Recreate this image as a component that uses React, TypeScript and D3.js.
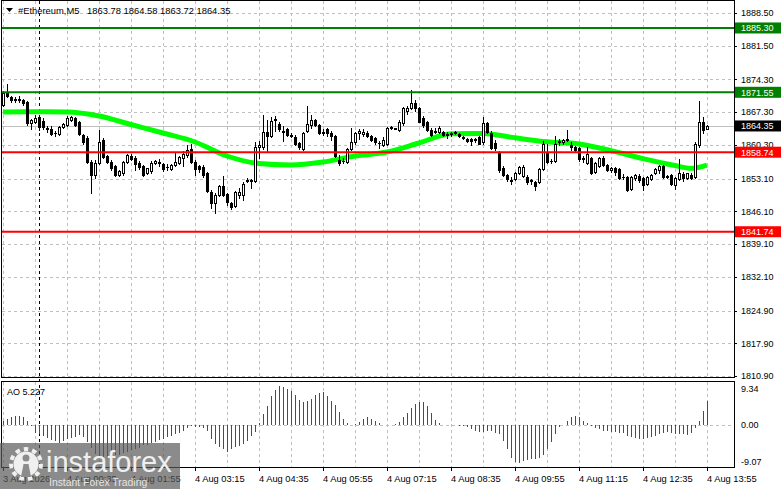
import React from 'react';
import * as d3 from 'd3';

const W = 781;
const H = 489;
const FONT = "'Liberation Sans', Arial, sans-serif";

// M5 bars, first bar 3 Aug 2026 23:15, last 4 Aug 13:55
const barStartUtc = Date.UTC(2026, 7, 3, 23, 15);
const barMinutes = 5;

const opens = [
  1868.8, 1871.5, 1870.5, 1870.1, 1870.1, 1869.9, 1869.5, 1865.0, 1865.3, 1866.3,
  1865.4, 1863.9, 1863.8, 1862.9, 1862.6, 1864.2, 1864.6, 1865.6, 1866.0, 1865.3,
  1862.4, 1861.7, 1856.7, 1853.9, 1856.4, 1861.4, 1857.9, 1856.7, 1855.8, 1853.9,
  1854.3, 1856.7, 1858.0, 1857.6, 1856.4, 1855.8, 1854.2, 1854.8, 1856.4, 1856.7,
  1856.2, 1855.6, 1855.1, 1856.0, 1856.5, 1857.5, 1858.1, 1859.5, 1856.7, 1855.8,
  1855.5, 1854.2, 1850.3, 1847.8, 1849.5, 1851.5, 1849.8, 1847.9, 1847.2, 1849.6,
  1849.6, 1852.6, 1852.9, 1852.6, 1859.9, 1859.9, 1863.1, 1862.2, 1865.6, 1864.8,
  1863.3, 1863.7, 1862.4, 1861.9, 1860.8, 1859.4, 1863.3, 1864.6, 1865.6, 1864.6,
  1863.1, 1863.7, 1862.8, 1862.2, 1857.1, 1856.9, 1856.7, 1859.5, 1861.0, 1862.9,
  1862.7, 1862.8, 1862.2, 1861.7, 1860.8, 1860.3, 1860.5, 1864.1, 1863.9, 1863.5,
  1864.9, 1867.5, 1868.1, 1869.3, 1868.1, 1866.0, 1865.1, 1863.5, 1863.3, 1863.0,
  1863.0, 1862.6, 1862.6, 1862.9, 1862.6, 1861.9, 1861.6, 1861.5, 1861.3, 1861.9,
  1860.9, 1864.9, 1862.9, 1860.8, 1858.8, 1855.3, 1853.9, 1852.9, 1853.0, 1854.2,
  1853.7, 1853.4, 1852.8, 1852.4, 1852.4, 1855.1, 1858.8, 1856.9, 1856.9, 1861.0,
  1861.0, 1861.5, 1860.3, 1859.8, 1859.6, 1857.4, 1856.5, 1857.4, 1854.6, 1855.8,
  1857.6, 1856.0, 1854.9, 1855.3, 1855.1, 1853.5, 1853.4, 1850.8, 1853.2, 1853.7,
  1853.2, 1851.9, 1853.0, 1854.2, 1854.9, 1855.8, 1853.6, 1853.9, 1851.7, 1853.0,
  1854.0, 1853.2, 1853.9, 1853.5, 1860.3, 1865.3, 1863.78,
];
const highs = [
  1871.9, 1873.4, 1870.8, 1870.6, 1870.7, 1870.1, 1869.7, 1865.9, 1866.7, 1866.6,
  1866.0, 1864.4, 1864.3, 1863.3, 1864.3, 1865.0, 1866.4, 1866.5, 1866.3, 1865.5,
  1862.7, 1862.3, 1857.0, 1857.0, 1863.5, 1861.8, 1858.1, 1857.0, 1856.0, 1855.0,
  1856.9, 1858.4, 1858.3, 1857.9, 1856.8, 1856.0, 1855.4, 1856.8, 1857.1, 1857.3,
  1856.5, 1856.3, 1856.2, 1858.8, 1858.0, 1859.0, 1860.3, 1860.5, 1857.0, 1856.1,
  1856.0, 1854.5, 1850.6, 1850.0, 1851.8, 1853.7, 1850.1, 1848.1, 1850.5, 1851.0,
  1852.4, 1853.3, 1853.1, 1861.0, 1861.2, 1866.8, 1865.7, 1866.3, 1866.5, 1865.2,
  1864.3, 1864.0, 1862.8, 1862.4, 1861.0, 1863.1, 1868.6, 1866.6, 1865.9, 1864.8,
  1863.7, 1864.0, 1863.2, 1862.4, 1858.1, 1857.5, 1859.6, 1863.9, 1863.1, 1863.6,
  1863.6, 1863.2, 1862.5, 1861.9, 1861.2, 1861.9, 1864.2, 1864.3, 1864.0, 1865.6,
  1868.3, 1868.6, 1872.0, 1870.0, 1868.4, 1866.4, 1865.4, 1863.9, 1864.0, 1864.4,
  1863.3, 1863.0, 1863.0, 1863.3, 1862.9, 1862.2, 1861.8, 1861.7, 1861.7, 1862.2,
  1866.2, 1865.3, 1863.2, 1861.3, 1859.1, 1855.8, 1854.1, 1853.4, 1854.5, 1855.8,
  1856.0, 1853.8, 1853.1, 1852.6, 1855.3, 1861.1, 1860.5, 1857.3, 1862.3, 1861.6,
  1861.6, 1863.5, 1861.0, 1860.1, 1859.9, 1858.0, 1859.9, 1857.7, 1856.7, 1857.7,
  1857.9, 1856.3, 1855.6, 1855.6, 1855.3, 1854.1, 1853.6, 1853.6, 1854.1, 1854.1,
  1853.4, 1853.6, 1854.1, 1855.3, 1856.0, 1856.0, 1853.9, 1854.1, 1853.4, 1857.3,
  1854.5, 1854.4, 1854.2, 1861.0, 1869.7, 1866.3, 1864.58,
];
const lows = [
  1868.6, 1870.5, 1869.5, 1869.4, 1869.5, 1868.9, 1864.6, 1863.8, 1865.0, 1863.5,
  1863.8, 1863.0, 1862.4, 1862.3, 1862.4, 1864.0, 1864.4, 1865.4, 1864.4, 1862.4,
  1860.6, 1856.5, 1850.1, 1853.2, 1856.2, 1857.4, 1856.5, 1854.9, 1853.6, 1853.6,
  1853.9, 1856.4, 1857.0, 1854.9, 1855.2, 1853.6, 1854.0, 1854.3, 1856.2, 1855.7,
  1854.8, 1855.0, 1854.9, 1855.8, 1856.3, 1855.7, 1857.8, 1856.5, 1853.9, 1854.6,
  1853.4, 1850.3, 1846.8, 1845.8, 1849.3, 1849.3, 1847.4, 1846.6, 1847.0, 1849.0,
  1848.6, 1852.3, 1851.0, 1852.3, 1857.6, 1859.5, 1859.0, 1861.9, 1863.3, 1863.2,
  1861.2, 1862.2, 1861.9, 1860.3, 1859.4, 1859.2, 1863.0, 1864.0, 1864.4, 1862.7,
  1862.4, 1862.2, 1861.4, 1857.7, 1855.9, 1856.4, 1856.5, 1859.2, 1860.6, 1861.5,
  1862.3, 1861.9, 1861.1, 1860.6, 1859.6, 1860.0, 1860.2, 1863.7, 1863.8, 1863.2,
  1864.6, 1867.0, 1867.9, 1867.6, 1865.1, 1864.2, 1863.2, 1862.2, 1862.8, 1862.8,
  1862.3, 1861.8, 1862.3, 1862.7, 1861.9, 1861.5, 1861.0, 1860.3, 1861.0, 1860.4,
  1860.6, 1862.9, 1859.4, 1859.2, 1854.6, 1853.6, 1852.6, 1851.9, 1852.8, 1854.0,
  1853.5, 1852.0, 1852.0, 1850.6, 1852.2, 1854.9, 1856.5, 1856.5, 1856.7, 1860.2,
  1860.6, 1861.2, 1859.2, 1859.0, 1856.9, 1856.7, 1856.3, 1854.0, 1854.3, 1855.6,
  1855.8, 1854.7, 1854.6, 1853.8, 1853.0, 1853.0, 1850.5, 1850.6, 1852.9, 1852.4,
  1850.7, 1851.7, 1852.8, 1854.0, 1854.4, 1853.2, 1853.2, 1851.7, 1850.8, 1852.8,
  1852.6, 1853.0, 1853.0, 1853.2, 1859.9, 1862.8, 1863.72,
];
const closes = [
  1871.5, 1870.8, 1869.8, 1870.0, 1869.9, 1869.3, 1864.9, 1865.6, 1866.1, 1864.2,
  1864.2, 1863.8, 1862.6, 1862.8, 1864.1, 1864.7, 1866.0, 1866.2, 1864.6, 1862.6,
  1861.0, 1856.7, 1853.9, 1856.4, 1861.0, 1857.8, 1856.7, 1855.3, 1853.9, 1854.8,
  1856.7, 1858.1, 1857.3, 1856.2, 1855.5, 1853.9, 1855.3, 1856.4, 1856.9, 1856.4,
  1855.1, 1855.5, 1856.0, 1856.7, 1857.8, 1858.4, 1859.3, 1856.7, 1855.1, 1855.1,
  1853.9, 1850.5, 1847.8, 1849.6, 1851.5, 1849.5, 1848.0, 1847.1, 1850.3, 1850.3,
  1852.0, 1852.9, 1852.5, 1859.9, 1860.2, 1863.1, 1862.1, 1865.5, 1865.8, 1863.7,
  1863.1, 1862.4, 1862.2, 1860.6, 1859.9, 1862.8, 1864.7, 1865.6, 1864.6, 1862.9,
  1862.9, 1862.8, 1862.1, 1857.9, 1856.4, 1856.8, 1859.4, 1861.0, 1862.9, 1863.3,
  1863.1, 1862.1, 1861.3, 1861.0, 1860.7, 1861.4, 1863.9, 1863.9, 1863.9, 1865.3,
  1868.1, 1868.1, 1869.3, 1868.1, 1865.3, 1864.6, 1863.5, 1862.4, 1863.1, 1864.0,
  1862.5, 1862.4, 1862.8, 1863.1, 1862.2, 1861.8, 1861.2, 1861.2, 1861.5, 1860.6,
  1864.9, 1863.1, 1859.6, 1859.6, 1854.9, 1853.9, 1853.0, 1852.6, 1854.2, 1855.5,
  1855.6, 1852.4, 1852.6, 1851.5, 1855.1, 1860.6, 1856.7, 1856.8, 1860.6, 1861.1,
  1861.3, 1861.6, 1859.8, 1859.3, 1857.2, 1857.3, 1858.4, 1854.3, 1856.4, 1857.4,
  1856.0, 1854.9, 1855.3, 1854.5, 1853.2, 1853.4, 1850.7, 1853.4, 1853.9, 1852.8,
  1851.7, 1853.4, 1853.9, 1855.1, 1855.8, 1853.4, 1853.5, 1851.9, 1853.2, 1854.2,
  1853.2, 1854.2, 1853.2, 1860.5, 1865.3, 1863.5, 1864.35,
];

// Awesome Oscillator, one value per bar
const aoValues = [
  0.9, 1.4, 1.7, 1.9, 2.0, 1.8, 0.8, -0.1, -1.6, -1.9,
  -2.3, -2.8, -3.2, -3.5, -3.8, -3.4, -3.0, -2.7, -2.5, -2.1,
  -2.5, -3.6, -5.0, -6.2, -7.0, -7.6, -7.1, -6.9, -6.5, -6.4,
  -6.0, -5.8, -5.3, -5.2, -4.9, -4.4, -4.3, -3.8, -3.6, -3.2,
  -3.1, -2.6, -2.4, -1.9, -1.6, -1.2, -0.7, -0.2, -0.3, -0.5,
  -0.7, -1.2, -3.0, -4.1, -4.8, -5.2, -5.8, -5.2, -4.8, -4.5,
  -4.1, -3.4, -2.3, -1.4, 0.4, 2.4, 4.2, 6.4, 7.7, 8.5,
  8.2, 7.8, 7.4, 6.5, 5.5, 5.1, 5.3, 5.6, 6.5, 6.9,
  7.2, 6.4, 5.3, 4.3, 2.9, 1.4, 0.4, 0.1, 0.15, 0.7,
  1.3, 1.7, 1.4, 0.9, 0.4, 0.1, 0.03, 0.06, 0.2, 0.7,
  1.7, 2.7, 3.7, 4.5, 5.1, 4.9, 4.2, 2.7, 1.2, 0.4,
  0.1, 0.05, -0.02, -0.05, -0.1, -0.15, -0.3, -0.8, -1.2, -1.5,
  -1.4, -1.2, -1.3, -1.6, -2.0, -3.4, -5.2, -7.2, -7.9, -8.2,
  -7.8, -7.5, -7.4, -7.35, -7.2, -6.4, -5.1, -3.6, -1.9, -0.5,
  0.1, 0.9, 1.7, 1.9, 1.7, 0.9, 0.4, -0.1, -0.7, -0.9,
  -1.2, -1.3, -1.4, -1.5, -1.6, -1.7, -2.3, -2.5, -2.7, -2.9,
  -3.0, -2.7, -2.65, -2.3, -1.9, -1.6, -1.45, -1.7, -1.9, -1.95,
  -2.0, -2.05, -1.6, -0.6, 0.9, 3.1, 5.227,
];

// moving average read at every 8th bar (plus the turn near the end)
const maBars = [0, 8, 16, 24, 32, 40, 48, 56, 64, 72, 80, 88, 96, 104, 112, 120, 128, 136, 144, 152, 160, 168, 172, 176];
const maValues = [
  1867.34, 1867.40, 1867.34, 1866.48, 1864.66, 1862.85, 1860.92, 1857.93,
  1856.33, 1856.01, 1856.65, 1857.93, 1858.79, 1860.71, 1862.68, 1862.74,
  1861.82, 1860.97, 1860.50, 1859.09, 1857.38, 1855.90, 1855.30, 1856.00,
];

const priceTicks = ['1888.50', '1881.50', '1874.30', '1867.30', '1860.30', '1853.10', '1846.10', '1839.10', '1832.10', '1824.90', '1817.90', '1810.90'];
const aoTicks = ['9.34', '0.00', '-9.07'];
const timeLabels = ['3 Aug 2026', '4 Aug 00:35', '4 Aug 01:55', '4 Aug 03:15', '4 Aug 04:35', '4 Aug 05:55', '4 Aug 07:15', '4 Aug 08:35', '4 Aug 09:55', '4 Aug 11:15', '4 Aug 12:35', '4 Aug 13:55'];

const resistanceLevels = [1885.30, 1871.55];
const supportLevels = [1858.74, 1841.74];
const symbol = '#Ethereum,M5';

function App() {
	const n = closes.length;
	const right = 734;
	const mainBottom = 377;
	const aoTop = 382;
	const aoBottom = 467;

	const x = d3.scaleLinear().domain([0, n - 1]).range([3, 707]);
	const y = d3.scaleLinear().domain([1810.9, 1888.5]).range([376, 13]);
	const yAo = d3.scaleLinear().domain([-9.07, 9.34]).range([aoBottom, aoTop]);
	const px = (i: number) => Math.round(x(i));
	const py = (v: number) => Math.round(y(v));

	const maPath = d3.line<number>()
		.x((d, k) => x(maBars[k]))
		.y(d => y(d))
		.curve(d3.curveMonotoneX)(maValues) || '';

	const gridBars = d3.range(0, n, 8);
	const labelBars = d3.range(0, n, 16);
	const daySep = d3.range(n).filter(i => {
		const t = new Date(barStartUtc + i * barMinutes * 60000);
		return t.getUTCHours() === 0 && t.getUTCMinutes() === 0;
	});

	const bid = closes[n - 1];
	const header = [opens[n - 1], highs[n - 1], lows[n - 1], closes[n - 1]].map(v => v.toFixed(2)).join(' ');

	const priceBox = (v: number, fill: string, key: string) => (
		<g key={key}>
			<rect x={right + 1} y={y(v) - 5.5} width={W - right - 1} height={11} fill={fill} />
			<text x={741} y={y(v) + 3.3} fill="#fff" fontSize={9}>{v.toFixed(2)}</text>
		</g>
	);

	return (
		<svg width={W} height={H} style={{ position: 'absolute', left: 0, top: 0, background: '#fff' }} fontFamily={FONT}>
			<rect width={W} height={H} fill="#fff" />

			{/* grid */}
			<g stroke="#c0c0c0" strokeDasharray="3,3" shapeRendering="crispEdges">
				{priceTicks.map(t => (
					<line key={t} x1={2} x2={right} y1={py(+t) + 0.5} y2={py(+t) + 0.5} />
				))}
				{gridBars.map(i => (
					<g key={i}>
						<line x1={px(i) + 0.5} x2={px(i) + 0.5} y1={1} y2={mainBottom} />
						<line x1={px(i) + 0.5} x2={px(i) + 0.5} y1={aoTop} y2={aoBottom} />
					</g>
				))}
				<line x1={2} x2={right} y1={Math.round(yAo(0)) + 0.5} y2={Math.round(yAo(0)) + 0.5} />
			</g>
			{daySep.map(i => (
				<line key={i} x1={px(i) + 0.5} x2={px(i) + 0.5} y1={1} y2={aoBottom} stroke="#000" strokeDasharray="3,3" shapeRendering="crispEdges" />
			))}

			{/* bid line */}
			<line x1={2} x2={right} y1={py(bid) + 0.5} y2={py(bid) + 0.5} stroke="#c0c0c0" shapeRendering="crispEdges" />

			{/* moving average */}
			<path d={maPath} fill="none" stroke="#00ff00" strokeWidth={5} />

			{/* candles */}
			<g shapeRendering="crispEdges">
				{closes.map((c, i) => {
					const o = opens[i];
					const cx = px(i);
					const top = py(Math.max(o, c));
					const bot = py(Math.min(o, c));
					const bull = c >= o;
					return (
						<g key={i}>
							<line x1={cx + 0.5} x2={cx + 0.5} y1={py(highs[i])} y2={py(lows[i]) + 1} stroke="#000" />
							{bull
								? <rect x={cx - 0.5} y={top + 0.5} width={2} height={Math.max(bot - top, 1)} fill="#fff" stroke="#000" />
								: <rect x={cx - 1} y={top} width={3} height={Math.max(bot - top + 1, 1)} fill="#000" />}
						</g>
					);
				})}
			</g>

			{/* levels */}
			{resistanceLevels.map(v => (
				<line key={v} x1={2} x2={right} y1={y(v)} y2={y(v)} stroke="#008000" strokeWidth={2} />
			))}
			{supportLevels.map(v => (
				<line key={v} x1={2} x2={right} y1={y(v)} y2={y(v)} stroke="#ff0000" strokeWidth={2} />
			))}

			{/* AO histogram */}
			<g shapeRendering="crispEdges">
				{aoValues.map((v, i) => {
					const up = i === 0 ? true : v >= aoValues[i - 1];
					return (
						<line key={i} x1={px(i) + 0.5} x2={px(i) + 0.5} y1={yAo(0)} y2={yAo(v)}
							stroke={up ? '#008000' : '#ff0000'} strokeWidth={1} />
					);
				})}
			</g>

			{/* frames */}
			<g fill="none" stroke="#000" shapeRendering="crispEdges">
				<rect x={1.5} y={0.5} width={right - 1} height={mainBottom} />
				<rect x={1.5} y={aoTop - 0.5} width={right - 1} height={aoBottom - aoTop + 0.5} />
			</g>

			{/* price axis */}
			<g fontSize={9} fill="#000">
				{priceTicks.map(t => (
					<g key={t}>
						<line x1={right} x2={right + 3} y1={py(+t) + 0.5} y2={py(+t) + 0.5} stroke="#000" shapeRendering="crispEdges" />
						<text x={741} y={y(+t) + 3.3}>{t}</text>
					</g>
				))}
			</g>
			{resistanceLevels.map(v => priceBox(v, '#008000', 'r' + v))}
			{supportLevels.map(v => priceBox(v, '#ff0000', 's' + v))}
			{priceBox(bid, '#000', 'bid')}

			{/* AO axis */}
			<g fontSize={9} fill="#000">
				<text x={741} y={aoTop + 10}>{aoTicks[0]}</text>
				<text x={741} y={yAo(0) + 3.3}>{aoTicks[1]}</text>
				<text x={741} y={aoBottom - 2.5}>{aoTicks[2]}</text>
			</g>
			<text x={7} y={395} fontSize={9}>{'AO ' + aoValues[n - 1].toFixed(3)}</text>

			{/* time axis */}
			<g fontSize={9.3} fill="#000">
				{labelBars.map((i, k) => (
					<g key={i}>
						<line x1={px(i) + 0.5} x2={px(i) + 0.5} y1={aoBottom} y2={aoBottom + 4} stroke="#000" shapeRendering="crispEdges" />
						<text x={px(i)} y={482}>{timeLabels[k]}</text>
					</g>
				))}
			</g>

			{/* header */}
			<path d="M6,8 L13,8 L9.5,12 Z" fill="#000" />
			<text x={18} y={14} fontSize={9.4}>{symbol}</text>
			<text x={87} y={14} fontSize={9.4}>{header}</text>

			{/* watermark */}
			<g>
				<rect x={0} y={443} width={180} height={46} fill="#5a5a5a" opacity={0.7} />
				<circle cx={26} cy={464} r={15} fill="none" stroke="#f0f0f0" strokeWidth={4} strokeDasharray="4.5,4" />
				<circle cx={26} cy={464} r={12.5} fill="#f0f0f0" />
				<circle cx={26} cy={458} r={3.5} fill="#8c8c8c" />
				<path d="M21,477 L23.5,464 L28.5,464 L31,477 Z" fill="#8c8c8c" />
				<text x={46} y={472} fontSize={29} fill="#f0f0f0">instaforex</text>
				<text x={49} y={486} fontSize={10.4} fill="#f0f0f0" opacity={0.9}>Instant Forex Trading</text>
			</g>
		</svg>
	);
}

export default App;
